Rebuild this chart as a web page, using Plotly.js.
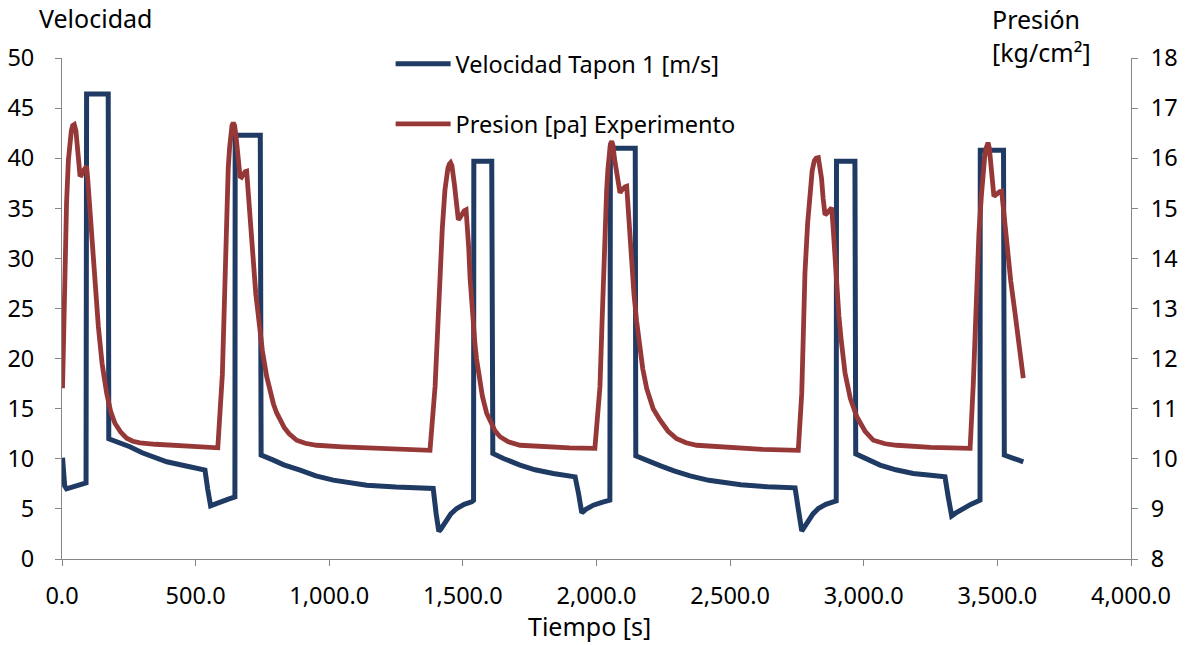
<!DOCTYPE html>
<html><head><meta charset="utf-8">
<script src="https://cdn.plot.ly/plotly-3.0.1.min.js"></script>
<style>html,body{margin:0;padding:0;background:#fff}#chart{width:1186px;height:645px}</style>
</head><body><div id="chart"></div>
<script>
// Velocidad Tapon 1 [m/s] (left axis)
const velT = [2, 10, 17, 50, 90, 92, 173, 175, 210, 254, 300, 330,
  392, 460, 535, 545, 556, 570, 591, 620, 647, 648, 742, 745,
  791, 830, 891, 950, 1015, 1075, 1140, 1250, 1389, 1400, 1410, 1418, 1440, 1455, 1477,
  1505, 1533, 1540, 1541, 1608, 1612, 1650, 1714, 1770, 1838, 1920, 1933, 1945,
  1960, 1988, 2020, 2050, 2052, 2145, 2147, 2190, 2240, 2290, 2350, 2420, 2540, 2640, 2743,
  2755, 2768, 2776, 2793, 2810, 2830, 2858, 2886, 2897, 2898, 2967, 2970,
  3010, 3061, 3120, 3185, 3250, 3304, 3316, 3329, 3345, 3360, 3400, 3435, 3436, 3523, 3526,
  3560, 3597];
const velV = [10.1, 7.3, 7.0, 7.3, 7.6, 46.4, 46.4, 12.0, 11.7, 11.2, 10.6, 10.3,
  9.7, 9.3, 8.87, 7.0, 5.3, 5.45, 5.7, 5.95, 6.2, 42.3, 42.3, 10.37,
  9.87, 9.4, 8.87, 8.3, 7.87, 7.6, 7.37, 7.18, 7.04, 4.5, 2.75, 3.0, 3.87, 4.5, 5.04,
  5.45, 5.7, 5.85, 39.7, 39.7, 10.54, 10.05, 9.37, 8.9, 8.54, 8.2, 6.5, 4.6,
  4.95, 5.37, 5.65, 5.87, 41.0, 41.0, 10.3, 9.8, 9.3, 8.8, 8.3, 7.85, 7.4, 7.2, 7.1,
  5.0, 2.8, 3.1, 3.87, 4.5, 5.04, 5.45, 5.7, 5.8, 39.7, 39.7, 10.5,
  10.0, 9.37, 8.9, 8.54, 8.35, 8.2, 6.2, 4.3, 4.6, 4.87, 5.45, 5.87, 40.8, 40.8, 10.37,
  10.05, 9.7];

// Presion [pa] Experimento (right axis, kg/cm²) — one line per cycle
const presT = [
  2, 6, 11, 17, 24, 30, 35, 40, 46, 52, 59, 64, 67, 72, 80, 88, 92, 96, 100, 105,
  111, 117, 126, 136, 150, 167, 182, 198, 220, 242, 265, 292, 350, 400, 500,
  583, 600, 605, 611, 617, 622, 627, 632, 636, 641, 646, 652, 659, 666, 672, 678, 685, 691, 695, 700,
  707, 715, 725, 735, 750, 766, 778, 791, 803, 816, 832, 850, 865, 878, 910, 953, 1050, 1150, 1260,
  1377, 1396, 1405, 1414, 1423, 1433, 1439, 1444, 1449, 1454, 1459, 1464, 1469, 1474, 1479, 1483, 1490, 1498, 1505, 1512,
  1517, 1522, 1527, 1533, 1539, 1545, 1551, 1558, 1573, 1589, 1605, 1620, 1639, 1670, 1714, 1800, 1900,
  1994, 2013, 2020, 2026, 2032, 2038, 2043, 2047, 2052, 2057, 2062, 2067, 2072, 2078, 2083, 2088, 2094, 2100, 2107, 2113,
  2119, 2125, 2132, 2140, 2150, 2160, 2173, 2188, 2212, 2238, 2268, 2300, 2335, 2375, 2500, 2620,
  2755, 2768, 2774, 2780, 2790, 2799, 2807, 2815, 2822, 2830, 2836, 2842, 2848, 2855, 2862, 2868, 2874, 2880, 2885, 2890,
  2895, 2899, 2907, 2915, 2922, 2930, 2950, 2974, 3005, 3036, 3080, 3123, 3250,
  3398, 3410, 3416, 3423, 3431, 3440, 3446, 3452, 3458, 3465, 3470, 3476, 3481, 3487, 3494, 3500, 3508, 3516, 3525, 3535,
  3550, 3566, 3582, 3597];
const presP = [
  11.41, 12.8, 13.97, 15.1, 15.97, 16.35, 16.55, 16.65, 16.67, 16.55, 16.24, 15.85, 15.67, 15.66, 15.75, 15.83, 15.84, 15.6, 15.3, 14.97,
  14.45, 13.97, 13.25, 12.64, 11.9, 11.31, 10.95, 10.71, 10.53, 10.41, 10.35, 10.32, 10.29, 10.27, 10.24,
  10.22, 11.68, 12.8, 14.0, 15.0, 15.8, 16.2, 16.5, 16.65, 16.71, 16.65, 16.4, 16.0, 15.64, 15.62, 15.7, 15.73, 15.74, 15.45, 15.0,
  14.4, 13.9, 13.3, 12.84, 12.15, 11.64, 11.35, 11.1, 10.92, 10.77, 10.62, 10.5, 10.43, 10.37, 10.31, 10.27, 10.24, 10.22, 10.2,
  10.17, 11.44, 12.6, 13.71, 14.6, 15.37, 15.65, 15.8, 15.88, 15.91, 15.85, 15.7, 15.45, 15.2, 14.9, 14.77, 14.82, 14.9, 14.95, 14.97,
  14.65, 14.2, 13.6, 13.04, 12.62, 12.3, 12.0, 11.71, 11.25, 10.91, 10.7, 10.56, 10.44, 10.34, 10.27, 10.24, 10.22,
  10.21, 11.44, 12.6, 13.71, 14.6, 15.37, 15.8, 16.1, 16.28, 16.34, 16.25, 16.0, 15.8, 15.6, 15.42, 15.31, 15.36, 15.4, 15.43, 15.44,
  14.95, 14.4, 13.85, 13.3, 12.75, 12.3, 11.8, 11.4, 11.0, 10.77, 10.55, 10.4, 10.32, 10.27, 10.22, 10.19,
  10.17, 11.31, 12.5, 13.71, 14.7, 15.37, 15.75, 15.95, 16.0, 16.01, 15.85, 15.6, 15.2, 14.87, 14.9, 14.95, 14.99, 15.01, 14.65, 14.2,
  13.75, 13.37, 12.85, 12.4, 12.05, 11.71, 11.2, 10.84, 10.55, 10.37, 10.3, 10.27, 10.23,
  10.21, 11.51, 12.6, 13.57, 14.5, 15.24, 15.7, 16.0, 16.2, 16.31, 16.2, 15.9, 15.55, 15.24, 15.27, 15.3, 15.33, 15.34, 14.8, 14.24,
  13.55, 12.91, 12.25, 11.61];

const seriesNames = ['Velocidad Tapon 1 [m/s]', 'Presion [pa] Experimento'];
const xTitle = 'Tiempo [s]';
const yTitle = 'Velocidad';
const y2Title = 'Presión<br>[kg/cm²]';

const FONT = 'Noto Sans, Open Sans, sans-serif';
const AX = '#868686';

const traces = [
  {x: velT, y: velV, type: 'scatter', mode: 'lines', name: seriesNames[0],
   line: {color: '#1F3A63', width: 5}, yaxis: 'y', legend: 'legend'},
  {x: presT, y: presP, type: 'scatter', mode: 'lines', name: seriesNames[1],
   line: {color: '#963837', width: 4.8}, yaxis: 'y2', legend: 'legend2'}
];

const axisCommon = {
  showgrid: false, zeroline: false, showline: true, linecolor: AX, linewidth: 1,
  ticks: 'outside', ticklen: 6, tickcolor: AX, tickwidth: 1,
  tickfont: {family: FONT, size: 23.5, color: '#000'}
};

const layout = {
  width: 1186, height: 645,
  margin: {l: 62, r: 55, t: 58, b: 86, pad: 0},
  paper_bgcolor: '#fff', plot_bgcolor: '#fff',
  font: {family: FONT, color: '#000'},
  xaxis: Object.assign({}, axisCommon, {
    range: [0, 4000], dtick: 500, tick0: 0, tickformat: ',.1f',
    ticklabelstandoff: 10
  }),
  yaxis: Object.assign({}, axisCommon, {
    range: [0, 50], dtick: 5, tick0: 0, ticklabelstandoff: 16
  }),
  yaxis2: Object.assign({}, axisCommon, {
    range: [8, 18], dtick: 1, tick0: 8, overlaying: 'y', side: 'right', ticklabelstandoff: 8
  }),
  showlegend: true,
  legend: {x: 0.3074, xanchor: 'left', y: 0.988, yanchor: 'middle', bgcolor: 'rgba(0,0,0,0)',
    font: {family: FONT, size: 23.5, color: '#000'}, itemwidth: 55},
  legend2: {x: 0.3074, xanchor: 'left', y: 0.868, yanchor: 'middle', bgcolor: 'rgba(0,0,0,0)',
    font: {family: FONT, size: 23.5, color: '#000'}, itemwidth: 55},
  annotations: [
    {text: yTitle, xref: 'paper', yref: 'paper', x: -0.0234, y: 1.08, xanchor: 'left', yanchor: 'middle',
     showarrow: false, font: {family: FONT, size: 25, color: '#000'}},
    {text: y2Title, xref: 'paper', yref: 'paper', x: 0.8685, y: 1.044, xanchor: 'left', yanchor: 'middle',
     align: 'left', showarrow: false, font: {family: FONT, size: 25, color: '#000'}},
    {text: xTitle, xref: 'paper', yref: 'paper', x: 0.4935, y: -0.1337, xanchor: 'center', yanchor: 'middle',
     showarrow: false, font: {family: FONT, size: 25, color: '#000'}}
  ]
};

Plotly.newPlot('chart', traces, layout, {displayModeBar: false, staticPlot: true});
</script>
</body></html>
